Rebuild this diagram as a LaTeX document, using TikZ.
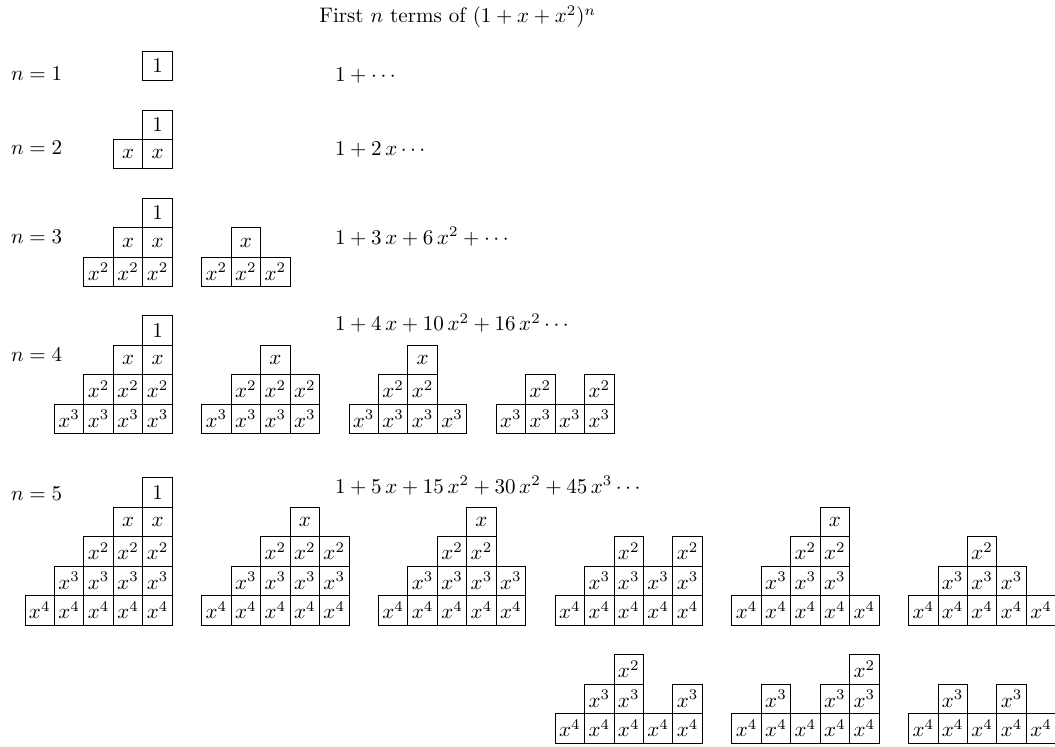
\documentclass[tikz,border=0pt]{standalone}
\tikzset{
  cell/.style={draw, line width=0.4pt, minimum width=14pt, minimum height=14pt, inner sep=0pt, outer sep=0pt},
  lbl/.style={inner sep=0pt, outer sep=0pt, anchor=base west}
}
% #1 prefix, #2 top y, #3 row, #4 col, #5 label
\newcommand{\cel}[5]{\node[cell] (#1-#4-#3) at ({25+(#4+0.5)*29.45},{#2+(#3+0.5)*29.45}) {$#5$};}
% #1 prefix, #2 top y, #3 row, #4 from col, #5 to col, #6 label
\newcommand{\crow}[6]{\foreach \cc in {#4,...,#5}{\node[cell] (#1-\cc-#3) at ({25+(\cc+0.5)*29.45},{#2+(#3+0.5)*29.45}) {$#6$};}}
\begin{document}
\begin{tikzpicture}[x=0.4754pt, y=-0.4754pt]
\useasboundingbox (0,0) rectangle (1055,747);
% texts
\node[lbl] (title) at (319.3,22.7) {First $n$ terms of $(1+x+x^2)^n$};
\node[lbl] (l1) at (11,80.7) {$n=1$};
\node[lbl] (l2) at (11,154) {$n=2$};
\node[lbl] (l3) at (11,243.3) {$n=3$};
\node[lbl] (l4) at (11,361) {$n=4$};
\node[lbl] (l5) at (11,500) {$n=5$};
\node[lbl] (f1) at (335,81.7) {$1+\cdots$};
\node[lbl] (f2) at (335,155) {$1+2\,x\cdots$};
\node[lbl] (f3) at (335,244) {$1+3\,x+6\,x^2+\cdots$};
\node[lbl] (f4) at (335,330.7) {$1+4\,x+10\,x^2+16\,x^2\cdots$};
\node[lbl] (f5) at (335,493.3) {$1+5\,x+15\,x^2+30\,x^2+45\,x^3\cdots$};
% n = 1
\cel{n1}{51.2}{0}{4}{1}
% n = 2
\cel{n2}{110}{0}{4}{1}
\crow{n2}{110}{1}{3}{4}{x}
% n = 3
\cel{n3}{198.3}{0}{4}{1}
\crow{n3}{198.3}{1}{3}{4}{x}
\crow{n3}{198.3}{2}{2}{4}{x^2}
\cel{n3}{198.3}{1}{7}{x}
\crow{n3}{198.3}{2}{6}{8}{x^2}
% n = 4
\cel{n4}{315.8}{0}{4}{1}
\crow{n4}{315.8}{1}{3}{4}{x}
\crow{n4}{315.8}{2}{2}{4}{x^2}
\crow{n4}{315.8}{3}{1}{4}{x^3}
\cel{n4}{315.8}{1}{8}{x}
\crow{n4}{315.8}{2}{7}{9}{x^2}
\crow{n4}{315.8}{3}{6}{9}{x^3}
\cel{n4}{315.8}{1}{13}{x}
\crow{n4}{315.8}{2}{12}{13}{x^2}
\crow{n4}{315.8}{3}{11}{14}{x^3}
\cel{n4}{315.8}{2}{17}{x^2}
\cel{n4}{315.8}{2}{19}{x^2}
\crow{n4}{315.8}{3}{16}{19}{x^3}
% n = 5
\cel{n5}{477.8}{0}{4}{1}
\crow{n5}{477.8}{1}{3}{4}{x}
\crow{n5}{477.8}{2}{2}{4}{x^2}
\crow{n5}{477.8}{3}{1}{4}{x^3}
\crow{n5}{477.8}{4}{0}{4}{x^4}
\cel{n5}{477.8}{1}{9}{x}
\crow{n5}{477.8}{2}{8}{10}{x^2}
\crow{n5}{477.8}{3}{7}{10}{x^3}
\crow{n5}{477.8}{4}{6}{10}{x^4}
\cel{n5}{477.8}{1}{15}{x}
\crow{n5}{477.8}{2}{14}{15}{x^2}
\crow{n5}{477.8}{3}{13}{16}{x^3}
\crow{n5}{477.8}{4}{12}{16}{x^4}
\cel{n5}{477.8}{2}{20}{x^2}
\cel{n5}{477.8}{2}{22}{x^2}
\crow{n5}{477.8}{3}{19}{22}{x^3}
\crow{n5}{477.8}{4}{18}{22}{x^4}
\cel{n5}{477.8}{1}{27}{x}
\crow{n5}{477.8}{2}{26}{27}{x^2}
\crow{n5}{477.8}{3}{25}{27}{x^3}
\crow{n5}{477.8}{4}{24}{28}{x^4}
\cel{n5}{477.8}{2}{32}{x^2}
\crow{n5}{477.8}{3}{31}{33}{x^3}
\crow{n5}{477.8}{4}{30}{34}{x^4}
% n = 5, second line
\cel{n5b}{654.6}{0}{20}{x^2}
\crow{n5b}{654.6}{1}{19}{20}{x^3}
\cel{n5b}{654.6}{1}{22}{x^3}
\crow{n5b}{654.6}{2}{18}{22}{x^4}
\cel{n5b}{654.6}{0}{28}{x^2}
\cel{n5b}{654.6}{1}{25}{x^3}
\crow{n5b}{654.6}{1}{27}{28}{x^3}
\crow{n5b}{654.6}{2}{24}{28}{x^4}
\cel{n5b}{654.6}{1}{31}{x^3}
\cel{n5b}{654.6}{1}{33}{x^3}
\crow{n5b}{654.6}{2}{30}{34}{x^4}
\end{tikzpicture}
\end{document}
